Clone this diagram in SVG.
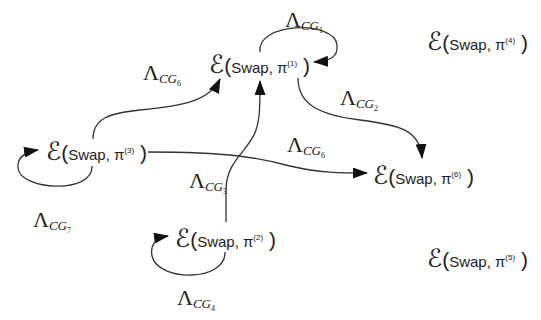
<svg xmlns="http://www.w3.org/2000/svg" width="541" height="320" viewBox="0 0 541 320">
<style>
.bg{fill:#fff}
.node{fill:#222;font-family:"Liberation Sans",Arial,sans-serif;font-size:15px}
.e{font-family:"DejaVu Sans",sans-serif;font-size:25px}
.p{font-size:21px}
.sup{font-size:8px}
.lam{fill:#222;font-family:"Liberation Serif","Times New Roman",serif;font-size:22px}
.cg{font-style:italic;font-size:13px}
.sub{font-size:8px}
.edge{fill:none;stroke:#333;stroke-width:1.3;marker-end:url(#ah)}
</style>
<defs>
<marker id="ah" markerUnits="userSpaceOnUse" markerWidth="15" markerHeight="11" refX="14" refY="5.5" orient="auto" viewBox="0 0 15 11">
<path d="M0,0 L15,5.5 L0,11 z" fill="#111"/>
</marker>
</defs>
<rect class="bg" width="541" height="320"/>
<g id="connectors">
<path class="edge" d="M260,52 C256,22 335,20 337,45 C338,56 332,61 314,62"/>
<path class="edge" d="M93,139 C93,118 110,113 140,110 C185,106 210,100 220,79"/>
<path class="edge" d="M92,166 C93,195 20,190 18,168 C17,158 25,152 38,150"/>
<path class="edge" d="M148,152 C230,152 260,158 290,166 C320,173 340,173 367,173"/>
<path class="edge" d="M226,222 L226,190 C226,160 250,150 256,130 C260,118 260,105 260,81"/>
<path class="edge" d="M225,252 C226,282 158,282 152,256 C150,245 155,238 168,236"/>
<path class="edge" d="M298,78 C298,105 320,115 360,120 C400,125 420,130 422,158"/>
</g>
<g id="n1"><text class="node" x="209" y="73"><tspan class="e">ℰ</tspan><tspan class="p">(</tspan>Swap, π<tspan class="sup" dy="-7">(1)</tspan><tspan class="p" dy="7"> )</tspan></text></g>
<g id="n3"><text class="node" x="46" y="160"><tspan class="e">ℰ</tspan><tspan class="p">(</tspan>Swap, π<tspan class="sup" dy="-7">(3)</tspan><tspan class="p" dy="7"> )</tspan></text></g>
<g id="n2"><text class="node" x="175" y="247"><tspan class="e">ℰ</tspan><tspan class="p">(</tspan>Swap, π<tspan class="sup" dy="-7">(2)</tspan><tspan class="p" dy="7"> )</tspan></text></g>
<g id="n6"><text class="node" x="373" y="184"><tspan class="e">ℰ</tspan><tspan class="p">(</tspan>Swap, π<tspan class="sup" dy="-7">(6)</tspan><tspan class="p" dy="7"> )</tspan></text></g>
<g id="n4"><text class="node" x="427" y="50"><tspan class="e">ℰ</tspan><tspan class="p">(</tspan>Swap, π<tspan class="sup" dy="-7">(4)</tspan><tspan class="p" dy="7"> )</tspan></text></g>
<g id="n5"><text class="node" x="427" y="267"><tspan class="e">ℰ</tspan><tspan class="p">(</tspan>Swap, π<tspan class="sup" dy="-7">(5)</tspan><tspan class="p" dy="7"> )</tspan></text></g>
<g id="labels">
<text class="lam" x="285" y="27">Λ<tspan class="cg" dy="3">CG</tspan><tspan class="sub" dy="3">1</tspan></text>
<text class="lam" x="143" y="80">Λ<tspan class="cg" dy="3">CG</tspan><tspan class="sub" dy="3">6</tspan></text>
<text class="lam" x="340" y="105">Λ<tspan class="cg" dy="3">CG</tspan><tspan class="sub" dy="3">2</tspan></text>
<text class="lam" x="287" y="152">Λ<tspan class="cg" dy="3">CG</tspan><tspan class="sub" dy="3">6</tspan></text>
<text class="lam" x="189" y="188">Λ<tspan class="cg" dy="3">CG</tspan><tspan class="sub" dy="3">3</tspan></text>
<text class="lam" x="33" y="227">Λ<tspan class="cg" dy="3">CG</tspan><tspan class="sub" dy="3">7</tspan></text>
<text class="lam" x="177" y="305">Λ<tspan class="cg" dy="3">CG</tspan><tspan class="sub" dy="3">4</tspan></text>
</g>
</svg>
